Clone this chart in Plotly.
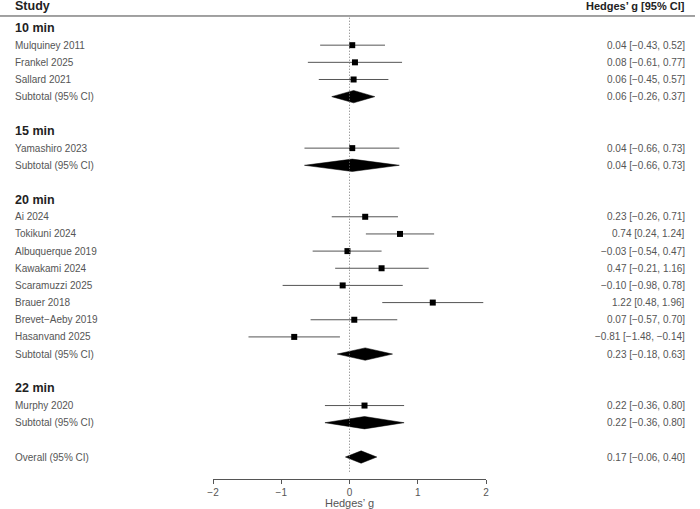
import plotly.graph_objects as go

# ---- data ----
groups = ["10 min", "15 min", "20 min", "22 min"]

studies_10 = ["Mulquiney 2011", "Frankel 2025", "Sallard 2021"]
g_10 = [0.04, 0.08, 0.06]
lo_10 = [-0.43, -0.61, -0.45]
hi_10 = [0.52, 0.77, 0.57]

studies_15 = ["Yamashiro 2023"]
g_15 = [0.04]
lo_15 = [-0.66]
hi_15 = [0.73]

studies_20 = ["Ai 2024", "Tokikuni 2024", "Albuquerque 2019", "Kawakami 2024",
              "Scaramuzzi 2025", "Brauer 2018", "Brevet\u2212Aeby 2019", "Hasanvand 2025"]
g_20 = [0.23, 0.74, -0.03, 0.47, -0.10, 1.22, 0.07, -0.81]
lo_20 = [-0.26, 0.24, -0.54, -0.21, -0.98, 0.48, -0.57, -1.48]
hi_20 = [0.71, 1.24, 0.47, 1.16, 0.78, 1.96, 0.70, -0.14]

studies_22 = ["Murphy 2020"]
g_22 = [0.22]
lo_22 = [-0.36]
hi_22 = [0.80]

sub_g = [0.06, 0.04, 0.23, 0.22]
sub_lo = [-0.26, -0.66, -0.18, -0.36]
sub_hi = [0.37, 0.73, 0.63, 0.80]

overall = (0.17, -0.06, 0.40)

xticks = [-2, -1, 0, 1, 2]

study_sets = [(studies_10, g_10, lo_10, hi_10), (studies_15, g_15, lo_15, hi_15),
              (studies_20, g_20, lo_20, hi_20), (studies_22, g_22, lo_22, hi_22)]


def fmt(v):
    return f"{v:.2f}".replace("-", "\u2212")


def ci_text(g, lo, hi):
    return f"{fmt(g)} [{fmt(lo)}, {fmt(hi)}]"


# ---- build rows ----
rows = []  # (kind, label, g, lo, hi)
for gi, grp in enumerate(groups):
    rows.append(("head", grp, None, None, None))
    names, g, lo, hi = study_sets[gi]
    for n, a, b, c in zip(names, g, lo, hi):
        rows.append(("study", n, a, b, c))
    rows.append(("sub", "Subtotal (95% CI)", sub_g[gi], sub_lo[gi], sub_hi[gi]))
    rows.append(("blank", "", None, None, None))
rows.append(("sub", "Overall (95% CI)", *overall))

fig = go.Figure()
annotations = []
DH = 0.36  # diamond half height in rows
XL = 13 / 700
XR = 687 / 700

for r, (kind, label, g, lo, hi) in enumerate(rows):
    if kind == "head":
        annotations.append(dict(x=XL, xref="paper", y=r, yref="y", text=f"<b>{label}</b>",
                                showarrow=False, xanchor="left", yanchor="middle",
                                font=dict(size=12.5, color="#222222")))
    elif kind in ("study", "sub"):
        annotations.append(dict(x=XL, xref="paper", y=r, yref="y", text=label,
                                showarrow=False, xanchor="left", yanchor="middle",
                                font=dict(size=10, color="#555555")))
        annotations.append(dict(x=XR, xref="paper", y=r, yref="y", text=ci_text(g, lo, hi),
                                showarrow=False, xanchor="right", yanchor="middle",
                                font=dict(size=10, color="#555555")))
        if kind == "study":
            fig.add_trace(go.Scatter(x=[lo, hi], y=[r, r], mode="lines",
                                     line=dict(color="#555555", width=1), hoverinfo="skip"))
            fig.add_trace(go.Scatter(x=[g], y=[r], mode="markers",
                                     marker=dict(symbol="square", size=6, color="black"),
                                     hoverinfo="skip"))
        else:
            fig.add_trace(go.Scatter(x=[lo, g, hi, g, lo], y=[r, r - DH, r, r + DH, r],
                                     mode="lines", fill="toself", fillcolor="black",
                                     line=dict(color="black", width=0.5), hoverinfo="skip"))

# header texts
annotations.append(dict(x=XL, xref="paper", y=-1.3, yref="y", text="<b>Study</b>",
                        showarrow=False, xanchor="left", yanchor="middle",
                        font=dict(size=12.5, color="#222222")))
annotations.append(dict(x=XR, xref="paper", y=-1.3, yref="y", text="<b>Hedges\u2019 g [95% CI]</b>",
                        showarrow=False, xanchor="right", yanchor="middle",
                        font=dict(size=11, color="#222222")))

n_last = len(rows) - 1
shapes = [
    dict(type="line", xref="paper", x0=0, x1=695 / 700, yref="y", y0=-0.7, y1=-0.7,
         line=dict(color="#444444", width=1)),
    dict(type="line", xref="x", x0=0, x1=0, yref="y", y0=-0.6, y1=n_last + 0.9,
         line=dict(color="#777777", width=1, dash="1px,2px")),
]

fig.update_layout(
    width=700, height=509,
    margin=dict(l=0, r=0, t=0, b=30, autoexpand=False),
    plot_bgcolor="white", paper_bgcolor="white",
    showlegend=False,
    font=dict(family="Liberation Sans, Arial, sans-serif", color="#555555"),
    annotations=annotations,
    shapes=shapes,
    xaxis=dict(domain=[213 / 700, 486 / 700], range=[-2, 2], tickvals=xticks,
               ticktext=[str(t).replace("-", "\u2212") for t in xticks],
               showgrid=False, zeroline=False, showline=True, linecolor="#555555", linewidth=1,
               ticks="outside", ticklen=4, tickcolor="#555555",
               tickfont=dict(size=10, color="#555555"),
               title=dict(text="Hedges\u2019 g", font=dict(size=11, color="#555555"), standoff=2)),
    yaxis=dict(range=[26.28, -1.632], visible=False, showgrid=False, zeroline=False),
)
fig.update_traces(cliponaxis=False)

fig.write_html("out.html", config={"displayModeBar": False},
               post_script="document.body.style.margin='0';")
